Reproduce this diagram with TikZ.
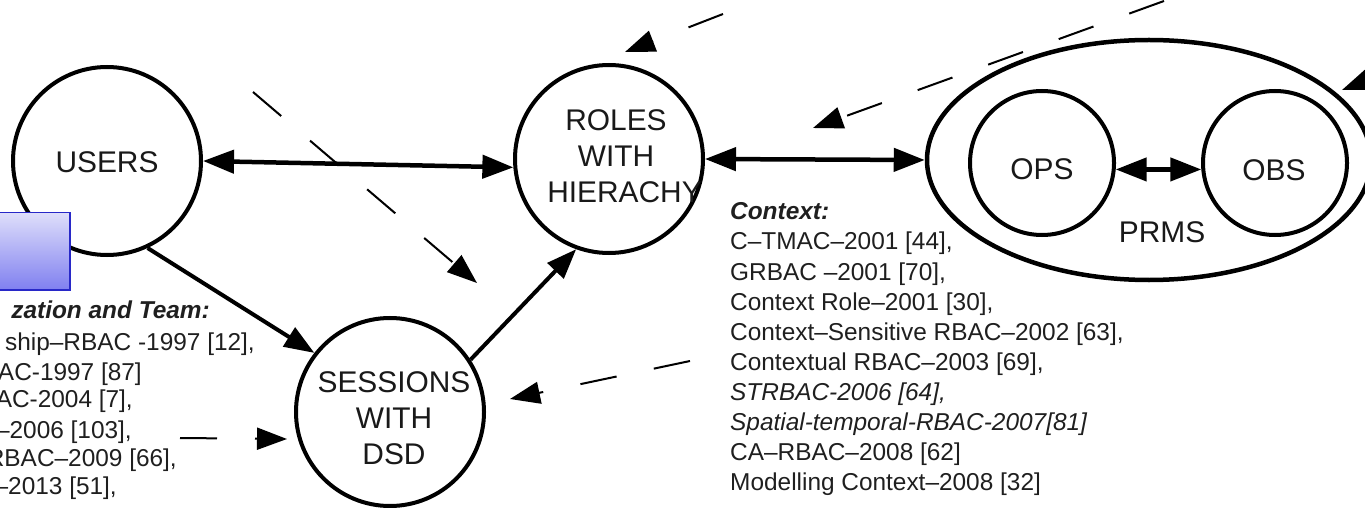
\documentclass[tikz,border=0pt]{standalone}
\usepackage{fontspec}
\setmainfont{Liberation Sans}
\usetikzlibrary{arrows.meta,shapes.geometric}
\begin{document}
\begin{tikzpicture}[x=1bp,y=-1bp,
  circ/.style={circle,draw=black,line width=4bp,minimum size=188bp,inner sep=0pt},
  smallcirc/.style={circle,draw=black,line width=4bp,minimum size=144bp,inner sep=0pt},
  bigtxt/.style={inner sep=0pt,align=center,text=black!90,font=\fontsize{30}{36}\selectfont},
  dblarrow/.style={line width=4.5bp,{Triangle[length=31bp,width=23bp]}-{Triangle[length=31bp,width=23bp]}},
  onearrow/.style={line width=4bp,-{Triangle[length=30bp,width=22bp]}},
  dsh/.style={line width=2bp,dash pattern=on 37bp off 38bp,-{Triangle[length=30bp,width=22bp]}},
  reftxt/.style={anchor=base west,inner sep=0pt,text=black!88,font=\fontsize{24.5}{30}\selectfont},
  reftxtl/.style={anchor=base east,inner sep=0pt,text=black!88,font=\fontsize{24.5}{30}\selectfont},
]
\useasboundingbox (0,0) rectangle (1365,508);
\clip (0,0) rectangle (1365,508);

% dashed arrows
\coordinate (d1s) at (253,92);   \coordinate (d1e) at (477,283);
\coordinate (d2s) at (723,14);   \coordinate (d2e) at (625,52);
\coordinate (d3s) at (1164,1);   \coordinate (d3e) at (813,128);
\coordinate (d4s) at (1420,60);  \coordinate (d4e) at (1342,90);
\coordinate (d5s) at (690,361);  \coordinate (d5e) at (510,399);
\coordinate (d6s) at (180,438);  \coordinate (d6e) at (287,439);
\draw[dsh] (d1s) -- (d1e);
\draw[dsh] (d2s) -- (d2e);
\draw[dsh] (d3s) -- (d3e);
\draw[dsh] (d4s) -- (d4e);
\draw[dsh] (d5s) -- (d5e);
\draw[dsh] (d6s) -- (d6e);

% main circles
\node[circ] (users) at (107,161) {};
\node[bigtxt] (userstxt) at (107,162) {USERS};
\node[circ] (roles) at (609,159) {};
\node[bigtxt] (rolestxt) at (616,156) {ROLES\\WITH\\\hspace*{17bp}HIERACHY};
\node[circ] (sessions) at (390,412) {};
\node[bigtxt] (sessionstxt) at (394,418) {SESSIONS\\WITH\\DSD};

% permissions
\node[ellipse,draw=black,line width=4.5bp,minimum width=444bp,minimum height=240bp,inner sep=0pt] (prms) at (1149,160) {};
\node[smallcirc] (ops) at (1042,163) {};
\node[bigtxt] (opstxt) at (1042,169) {OPS};
\node[smallcirc] (obs) at (1275,163) {};
\node[bigtxt] (obstxt) at (1274,170) {OBS};
\node[bigtxt] (prmstxt) at (1162,232) {PRMS};

% solid connectors
\draw[dblarrow] (users.0) -- (roles.185);
\draw[dblarrow] (roles.east) -- (prms.west);
\draw[dblarrow] (ops.-5) -- (obs.185);
\draw[onearrow] (users.-65) -- (sessions.142);
\draw[onearrow] (sessions.33) -- (roles.-110);

% blue box
\node[draw={rgb,255:red,40;green,40;blue,200},line width=1.5bp,
      top color={rgb,255:red,222;green,222;blue,250},
      bottom color={rgb,255:red,128;green,128;blue,240},
      minimum width=75bp,minimum height=77bp,anchor=north west,inner sep=0pt] (box) at (-6,212) {};

% left reference list (clipped by the frame)
\node[reftxtl] (l1) at (210,318) {\bfseries\itshape zation and Team:};
\node[reftxtl] (l2) at (255,350) {ship–RBAC -1997 [12],};
\node[reftxtl] (l3) at (142,380) {AC-1997 [87]};
\node[reftxtl] (l4) at (133,407) {AC-2004 [7],};
\node[reftxtl] (l5) at (132,438) {–2006 [103],};
\node[reftxtl] (l6) at (177,466) {RBAC–2009 [66],};
\node[reftxtl] (l7) at (117,494) {–2013 [51],};

% context reference list
\node[reftxt] (c0) at (730,220) {\bfseries\itshape Context:};
\node[reftxt] (c1) at (730,250) {C–TMAC–2001 [44],};
\node[reftxt] (c2) at (730,280) {GRBAC –2001 [70],};
\node[reftxt] (c3) at (730,310) {Context Role–2001 [30],};
\node[reftxt] (c4) at (730,340) {Context–Sensitive RBAC–2002 [63],};
\node[reftxt] (c5) at (730,370) {Contextual RBAC–2003 [69],};
\node[reftxt] (c6) at (730,400) {\itshape STRBAC-2006 [64],};
\node[reftxt] (c7) at (730,430) {\itshape Spatial-temporal-RBAC-2007[81]};
\node[reftxt] (c8) at (730,460) {CA–RBAC–2008 [62]};
\node[reftxt] (c9) at (730,490) {Modelling Context–2008 [32]};
\end{tikzpicture}
\end{document}
